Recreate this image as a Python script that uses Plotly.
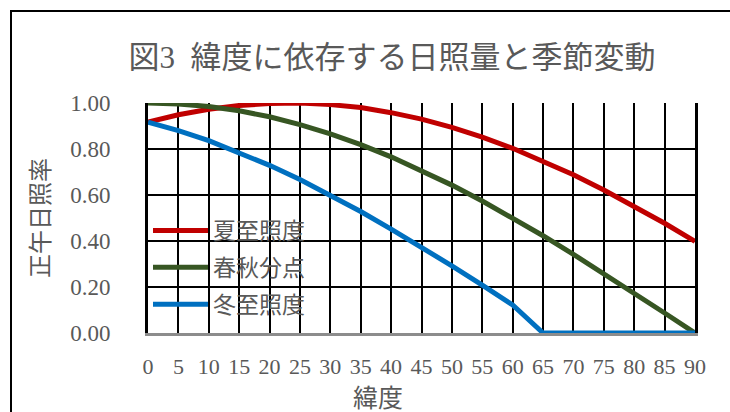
import plotly.graph_objects as go

latitude = [0, 5, 10, 15, 20, 25, 30, 35, 40, 45, 50, 55, 60, 65, 70, 75, 80, 85, 90]
summer = [0.917, 0.949, 0.973, 0.989, 0.998, 1.000, 0.993, 0.980, 0.958, 0.930,
          0.894, 0.852, 0.803, 0.748, 0.688, 0.622, 0.552, 0.477, 0.398]
equinox = [1.000, 0.996, 0.985, 0.966, 0.940, 0.906, 0.866, 0.819, 0.766, 0.707,
           0.643, 0.574, 0.500, 0.423, 0.342, 0.259, 0.174, 0.087, 0.000]
winter = [0.917, 0.880, 0.836, 0.785, 0.729, 0.667, 0.599, 0.528, 0.452, 0.373,
          0.292, 0.208, 0.122, 0.000, 0.000, 0.000, 0.000, 0.000, 0.000]
names = ["夏至照度", "春秋分点", "冬至照度"]
colors = ["#C00000", "#375623", "#0070C0"]

title_text = "図3  緯度に依存する日照量と季節変動"
x_title = "緯度"
y_title = "正午日照率"

FONT = "'Liberation Serif', 'Noto Sans CJK JP', serif"
GRAY = "#595959"

fig = go.Figure()
for i, (ys, nm, c) in enumerate(zip([summer, equinox, winter], names, colors)):
    fig.add_trace(go.Scatter(x=latitude, y=ys, name=nm, mode="lines",
                             legendgroup=f"g{i}",
                             line=dict(color=c, width=5)))

W, H = 730, 412
L, R, T, B = 148, 35, 103, 79
pw, ph = W - L - R, H - T - B

def px_x(p):
    return (p - L) / pw

def px_y(p):
    return (H - B - p) / ph

fig.update_layout(
    width=W, height=H,
    margin=dict(l=L, r=R, t=T, b=B),
    paper_bgcolor="white", plot_bgcolor="white",
    font=dict(family=FONT, color=GRAY),
    title=dict(text=title_text, x=392 / W, xanchor="center",
               y=1 - 57 / H, yanchor="middle",
               font=dict(size=31, color=GRAY, family=FONT)),
    showlegend=True,
    legend=dict(x=px_x(148), y=px_y(209), xanchor="left", yanchor="top",
                bgcolor="rgba(0,0,0,0)", font=dict(size=23, color=GRAY, family=FONT),
                itemwidth=55, tracegroupgap=4),
    xaxis=dict(range=[0, 90], tickmode="array", tickvals=latitude,
               ticktext=[str(v) for v in latitude],
               showgrid=True, gridcolor="black", gridwidth=1.5,
               showline=True, linecolor="#8c8c8c", linewidth=2.5,
               zeroline=False, ticks="", ticklabelstandoff=12,
               tickfont=dict(size=22, color=GRAY, family=FONT)),
    yaxis=dict(range=[0, 1], dtick=0.2, tick0=0, tickformat=".2f",
               showgrid=True, gridcolor="black", gridwidth=1.5,
               showline=True, mirror=True, linecolor="black", linewidth=3,
               zeroline=False, ticks="", ticklabelstandoff=30,
               tickfont=dict(size=23, color=GRAY, family=FONT),
               title=dict(text=y_title, standoff=14,
                          font=dict(size=24, color=GRAY, family=FONT))),
    shapes=[dict(type="rect", xref="paper", yref="paper",
                 x0=px_x(11), x1=px_x(740), y0=px_y(420), y1=px_y(11),
                 line=dict(color="black", width=2), layer="below")],
    annotations=[dict(text=x_title, xref="paper", yref="paper",
                      x=px_x(378), y=px_y(398), xanchor="center", yanchor="middle",
                      showarrow=False, font=dict(size=25, color=GRAY, family=FONT))],
)

fig.write_html("out.html")
